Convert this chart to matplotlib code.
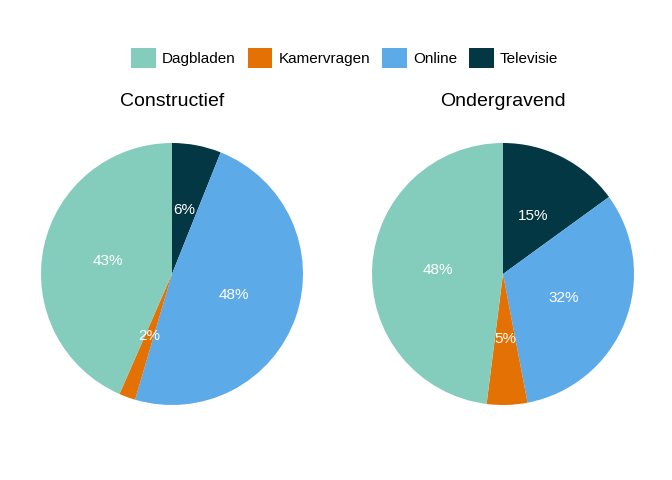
import matplotlib.pyplot as plt
from matplotlib.patches import Patch

plt.rcParams['font.family'] = ['Liberation Sans', 'DejaVu Sans']

categories = ['Dagbladen', 'Kamervragen', 'Online', 'Televisie']
colors = ['#84CDBD', '#E37104', '#5DAAE8', '#033744']
constructief = [43, 2, 48, 6]
ondergravend = [48, 5, 32, 15]

fig = plt.figure(figsize=(6.72, 4.8), dpi=100)
panels = [('Constructief', constructief, 172), ('Ondergravend', ondergravend, 503)]
r_px = 131
for title, vals, cx_px in panels:
    cx = cx_px / 672
    w = 2 * r_px / 672
    h = 2 * r_px / 480
    cy = 1 - 274 / 480
    ax = fig.add_axes([cx - w / 2, cy - h / 2, w, h])
    # clockwise from 12 o'clock: Televisie, Online, Kamervragen, Dagbladen
    order = [3, 2, 1, 0]
    ax.pie([vals[i] for i in order], colors=[colors[i] for i in order],
           startangle=90, counterclock=False, radius=1.0,
           autopct=lambda p: f'{round(p)}%', pctdistance=0.5,
           textprops=dict(color='white', fontsize=11))
    ax.set_xlim(-1, 1)
    ax.set_ylim(-1, 1)
    ax.set_aspect('equal')
    fig.text(cx, 1 - 101 / 480, title, ha='center', va='center', fontsize=14)

handles = [Patch(facecolor=c, label=l) for c, l in zip(colors, categories)]
fig.legend(handles=handles, loc='center', bbox_to_anchor=(0.513, 1 - 58 / 480), ncol=4,
           frameon=False, fontsize=11, handlelength=1.6, handleheight=1.6,
           handletextpad=0.4, columnspacing=0.8)

fig.savefig('out.png', dpi=100)
